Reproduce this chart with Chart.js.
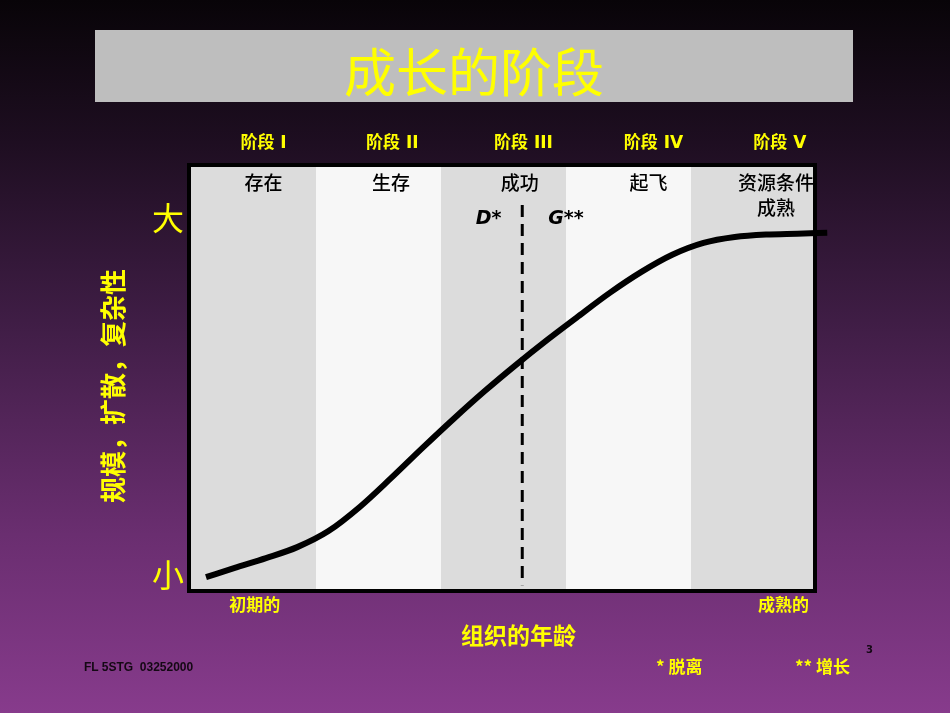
<!DOCTYPE html>
<html>
<head>
<meta charset="utf-8">
<script src="https://cdn.jsdelivr.net/npm/chart.js@4.4.1/dist/chart.umd.min.js"></script>
<style>
  html, body { margin: 0; padding: 0; }
  body {
    width: 950px; height: 713px; overflow: hidden; position: relative;
    background: linear-gradient(#080408 0%, #1e0e21 20%, #3f1d45 45%, #6a2e70 75%, #873b8c 100%);
    font-family: 'Noto Sans CJK SC', sans-serif;
  }
  #chart { position: absolute; left: 0; top: 0; }
  .title {
    position: absolute; left: 95px; top: 30px; width: 758px; height: 72px;
    background: #bebebe; color: #ffff00; font-size: 52px; line-height: 80px;
    text-align: center; overflow: visible;
  }
  .foot { position: absolute; font-weight: bold; white-space: pre; }
</style>
</head>
<body>
<canvas id="chart" width="950" height="713"></canvas>
<div class="title">成长的阶段</div>
<div class="foot" style="left:84px;top:660px;font:bold 12px 'Liberation Sans';color:#140814">FL 5STG  03252000</div>
<div class="foot" style="left:656px;top:653px;font-size:17px;color:#ffff00">* 脱离</div>
<div class="foot" style="left:795px;top:653px;font-size:17px;color:#ffff00">** 增长</div>
<div class="foot" style="left:866px;top:644px;font:bold 10px 'DejaVu Sans';color:#140814">3</div>
<script>
// stages across the top
const stageNames = ['阶段 I', '阶段 II', '阶段 III', '阶段 IV', '阶段 V'];
const stageLabelX = [0.58, 1.61, 2.66, 3.70, 4.71];
const phaseNames = [['存在'], ['生存'], ['成功'], ['起飞'], ['资源条件', '成熟']];
const phaseX = [0.58, 1.6, 2.63, 3.66, 4.68];
const bandEdges = [0, 1, 2, 3, 4, 5];

// growth curve (age in stage units, size 0-100)
const curveX = [0.12, 0.35, 0.6, 0.85, 1.1, 1.35, 1.6, 1.85, 2.1, 2.35, 2.6,
                2.85, 3.1, 3.35, 3.6, 3.85, 4.1, 4.35, 4.6, 4.85, 5.09];
const curveY = [2.8, 5.0, 7.3, 9.9, 13.7, 19.4, 26.2, 33.3, 40.2, 46.8, 53.0,
                58.9, 64.5, 70.0, 74.9, 79.0, 81.8, 83.2, 83.8, 84.0, 84.2];

// split line between D* and G**
const splitX = 2.65;
const splitY = [90.8, 0.9];
const markerText = ['D*', 'G**'];
const markerX = [2.38, 3.0];
const markerY = [87.5, 87.5];

// axis ticks
const ageTicks = [0.51, 4.74];
const ageLabels = ['初期的', '成熟的'];
const sizeTicks = [3.3, 87.7];
const sizeLabels = ['小', '大'];

const YELLOW = '#ffff00';
const LATIN = "'DejaVu Sans', 'Noto Sans CJK SC', sans-serif";
const CJK = "'Noto Sans CJK SC', sans-serif";

const stagePlugin = {
  id: 'stages',
  beforeDatasetsDraw(chart) {
    const { ctx, chartArea: a, scales: { x } } = chart;
    ctx.save();
    for (let i = 0; i < bandEdges.length - 1; i++) {
      const x0 = x.getPixelForValue(bandEdges[i]);
      const x1 = x.getPixelForValue(bandEdges[i + 1]);
      ctx.fillStyle = i % 2 ? '#f7f7f7' : '#dcdcdc';
      ctx.fillRect(x0, a.top, x1 - x0, a.bottom - a.top);
    }
    ctx.lineWidth = 4;
    ctx.strokeStyle = '#000';
    ctx.strokeRect(a.left - 2, a.top - 1, a.right - a.left + 1, a.bottom - a.top + 3);
    ctx.restore();
  },
  afterDatasetsDraw(chart) {
    const { ctx, chartArea: a, scales: { x, y } } = chart;
    ctx.save();
    ctx.textAlign = 'center';
    ctx.textBaseline = 'middle';
    ctx.fillStyle = '#000';
    ctx.font = '500 19px ' + CJK;
    phaseNames.forEach((lines, i) => {
      lines.forEach((t, j) => ctx.fillText(t, x.getPixelForValue(phaseX[i]), a.top + 17 + j * 25));
    });
    ctx.font = 'italic bold 19px ' + LATIN;
    markerText.forEach((t, i) => ctx.fillText(t, x.getPixelForValue(markerX[i]), y.getPixelForValue(markerY[i])));

    // axis titles
    ctx.fillStyle = YELLOW;
    ctx.font = 'bold 23px ' + CJK;
    ctx.fillText('组织的年龄', x.getPixelForValue(2.62), 635);
    ctx.translate(113, y.getPixelForValue(48));
    ctx.rotate(-Math.PI / 2);
    ctx.font = 'bold 26px ' + CJK;
    ctx.fillText('规模，扩散，复杂性', 0, 0);
    ctx.restore();
  }
};

new Chart(document.getElementById('chart'), {
  type: 'scatter',
  data: {
    datasets: [
      {
        data: curveX.map((v, i) => ({ x: v, y: curveY[i] })),
        showLine: true,
        borderColor: '#000',
        borderWidth: 6,
        borderCapStyle: 'butt',
        cubicInterpolationMode: 'monotone',
        pointRadius: 0,
        clip: false
      },
      {
        data: splitY.map(v => ({ x: splitX, y: v })),
        showLine: true,
        borderColor: '#000',
        borderWidth: 3,
        borderDash: [12, 7],
        pointRadius: 0
      }
    ]
  },
  options: {
    responsive: false,
    animation: false,
    layout: { padding: { left: 0, right: 134, top: 100, bottom: 64 } },
    plugins: { legend: { display: false }, tooltip: { enabled: false } },
    scales: {
      x: {
        type: 'linear', position: 'bottom', min: 0, max: 5,
        grid: { display: false, drawTicks: false },
        border: { display: false },
        afterBuildTicks: s => { s.ticks = ageTicks.map(v => ({ value: v })); },
        afterFit: s => { s.height = 60; },
        ticks: {
          autoSkip: false, maxRotation: 0, padding: 7, color: YELLOW,
          font: { family: LATIN, size: 17, weight: 'bold' },
          callback: v => ageLabels[ageTicks.indexOf(v)]
        }
      },
      x2: {
        type: 'linear', position: 'top', min: 0, max: 5,
        grid: { display: false, drawTicks: false },
        border: { display: false },
        afterBuildTicks: s => { s.ticks = stageLabelX.map(v => ({ value: v })); },
        afterFit: s => { s.height = 66; },
        ticks: {
          autoSkip: false, maxRotation: 0, padding: 12, color: YELLOW,
          font: { family: LATIN, size: 17, weight: 'bold' },
          callback: v => stageNames[stageLabelX.indexOf(v)]
        }
      },
      y: {
        type: 'linear', min: 0, max: 100,
        grid: { display: false, drawTicks: false },
        border: { display: false },
        afterBuildTicks: s => { s.ticks = sizeTicks.map(v => ({ value: v })); },
        afterFit: s => { s.width = 191; },
        ticks: {
          autoSkip: false, padding: 7, color: YELLOW,
          font: { family: CJK, size: 32 },
          callback: v => sizeLabels[sizeTicks.indexOf(v)]
        }
      }
    }
  },
  plugins: [stagePlugin]
});
</script>
</body>
</html>
